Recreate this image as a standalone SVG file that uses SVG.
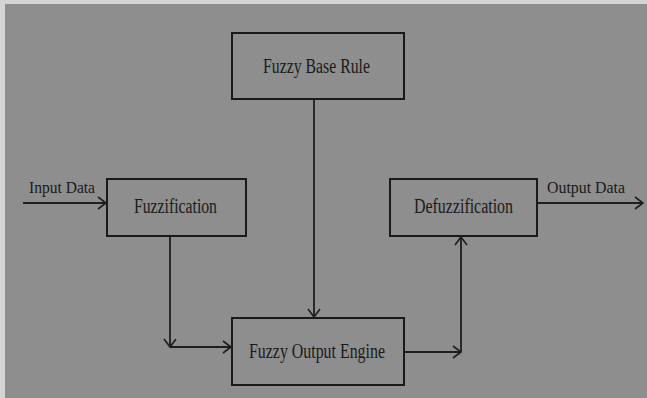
<svg xmlns="http://www.w3.org/2000/svg" width="647" height="398" viewBox="0 0 647 398">
  <defs>
    <marker id="arr" viewBox="0 0 10 14" markerWidth="10" markerHeight="14" refX="9" refY="7" orient="auto" markerUnits="userSpaceOnUse">
      <path d="M1,1 L9,7 L1,13" fill="none" stroke="#1e1e1e" stroke-width="1.6"/>
    </marker>
  </defs>
  <style>
    .box { fill: none; stroke: #1a1a1a; stroke-width: 2; }
    .lbl { font-family: "Liberation Serif", "Times New Roman", serif; font-size: 20px; fill: #1a1a1a; }
    .io { font-family: "Liberation Serif", "Times New Roman", serif; font-size: 17px; fill: #1a1a1a; }
    .wire { fill: none; stroke: #1e1e1e; stroke-width: 1.8; }
  </style>
  <rect x="0" y="0" width="647" height="398" fill="#d4d4d4"/>
  <rect x="5" y="4" width="642" height="394" fill="#8e8e8e"/>

  <g id="base-rule">
    <rect class="box" x="232" y="33" width="172" height="66"/>
    <text class="lbl" x="263" y="73" textLength="107" lengthAdjust="spacingAndGlyphs">Fuzzy Base Rule</text>
  </g>
  <g id="fuzzification">
    <rect class="box" x="107" y="179" width="139" height="57"/>
    <text class="lbl" x="134" y="213" textLength="83" lengthAdjust="spacingAndGlyphs">Fuzzification</text>
  </g>
  <g id="defuzzification">
    <rect class="box" x="390" y="179" width="147" height="57"/>
    <text class="lbl" x="414" y="213" textLength="99" lengthAdjust="spacingAndGlyphs">Defuzzification</text>
  </g>
  <g id="output-engine">
    <rect class="box" x="232" y="318" width="172" height="67"/>
    <text class="lbl" x="249" y="358" textLength="136" lengthAdjust="spacingAndGlyphs">Fuzzy Output Engine</text>
  </g>

  <g id="connectors">
    <path class="wire" d="M23,203 H106" marker-end="url(#arr)"/>
    <text class="io" x="29" y="193" textLength="66" lengthAdjust="spacingAndGlyphs">Input Data</text>
    <path class="wire" d="M537,203 H643" marker-end="url(#arr)"/>
    <text class="io" x="547" y="193" textLength="78" lengthAdjust="spacingAndGlyphs">Output Data</text>
    <path class="wire" d="M314,99 V317" marker-end="url(#arr)"/>
    <path class="wire" d="M170,236 V347" marker-end="url(#arr)"/>
    <path class="wire" d="M170,347 H231" marker-end="url(#arr)"/>
    <path class="wire" d="M404,352 H461" marker-end="url(#arr)"/>
    <path class="wire" d="M461,352 V237" marker-end="url(#arr)"/>
  </g>
</svg>
